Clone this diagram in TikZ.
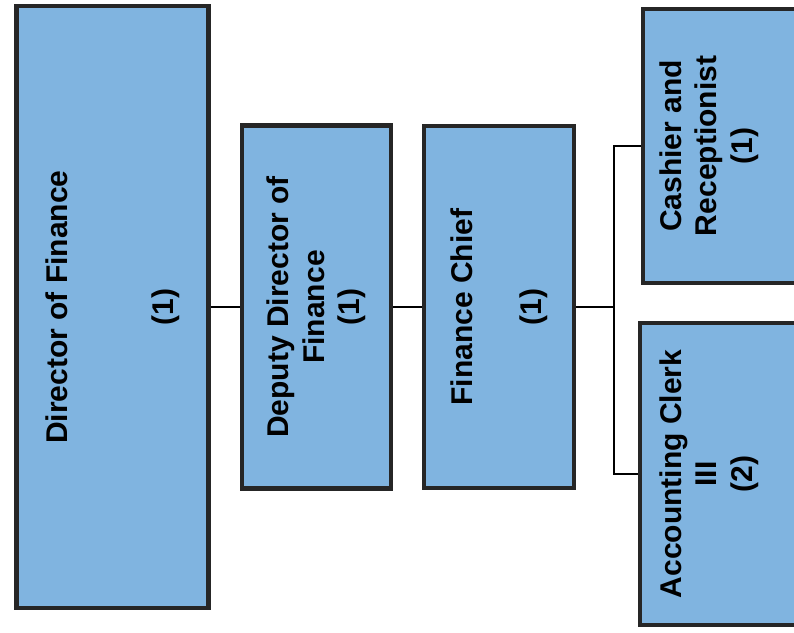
\documentclass[tikz,border=0pt]{standalone}
\usepackage{fontspec}
\setmainfont{Liberation Sans}
\usepackage{xcolor}
\usetikzlibrary{positioning}
\definecolor{boxblue}{HTML}{80B4E0}
\definecolor{boxline}{HTML}{262626}

\begin{document}
\begin{tikzpicture}[x=1bp,y=-1bp,
  post/.style={draw=boxline,line width=4.5bp,fill=boxblue,rotate=90,inner sep=0pt},
  title/.style={align=center,inner sep=0pt,font=\bfseries\fontsize{30bp}{35.5bp}\selectfont},
  link/.style={line width=1.2bp,black}]
  \useasboundingbox (0,0) rectangle (794,633);

  % Director of Finance
  \node[post,title,minimum width=602bp,minimum height=192bp] (dir) at (112.5,307) {Director of Finance\\[71bp](1)};

  % Deputy and chief
  \node[post,title,minimum width=363bp,minimum height=149bp] (dep) at (316.5,307) {Deputy Director of\\Finance\\(1)};
  \node[post,title,minimum width=362bp,minimum height=150bp] (chief) at (499,307) {Finance Chief\\[33bp](1)};

  % Staff boxes (run off the page)
  \node[post,minimum width=274bp,minimum height=187bp] (cash) at (736.5,146) {};
  \node[title,rotate=90] (cashtxt) at (709,146) {Cashier and\\Receptionist\\(1)};
  \node[post,minimum width=302bp,minimum height=190bp] (clerk) at (735,474) {};
  \node[title,rotate=90] (clerktxt) at (709,474) {Accounting Clerk\\III\\(2)};

  % Connectors
  \coordinate (split) at (614,307);
  \draw[link] (dir.south) -- (dep.north);
  \draw[link] (dep.south) -- (chief.north);
  \draw[link] (chief.south) -- (split);
  \draw[link] (cash.north) -| (split) |- (clerk.north);
\end{tikzpicture}
\end{document}
